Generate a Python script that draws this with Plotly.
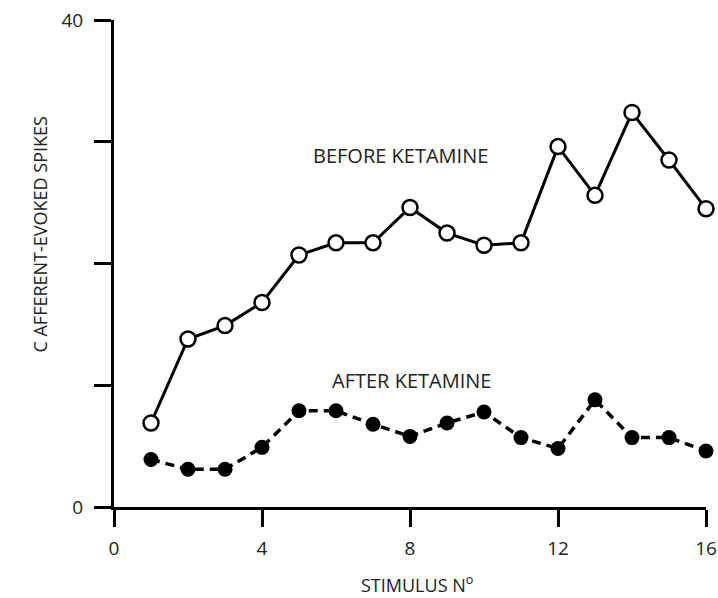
import plotly.graph_objects as go

stimulus = list(range(1, 17))
before_ketamine = [6.9, 13.8, 14.9, 16.8, 20.7, 21.7, 21.7, 24.6, 22.5, 21.5, 21.7, 29.6, 25.6, 32.4, 28.5, 24.5]
after_ketamine = [3.9, 3.1, 3.1, 4.9, 7.9, 7.9, 6.8, 5.8, 6.9, 7.8, 5.7, 4.8, 8.8, 5.7, 5.7, 4.6]

x_ticks = [0, 4, 8, 12, 16]
y_ticks = [0, 10, 20, 30, 40]
y_tick_labels = ["0", "", "", "", "40"]

FONT = "Open Sans"
TXT = "#222"

fig = go.Figure()
fig.add_trace(go.Scatter(
    x=stimulus, y=before_ketamine, mode="lines+markers",
    line=dict(color="black", width=3),
    marker=dict(symbol="circle", size=15, color="white", line=dict(color="black", width=2.5)),
    cliponaxis=False, showlegend=False,
))
fig.add_trace(go.Scatter(
    x=stimulus, y=after_ketamine, mode="lines+markers",
    line=dict(color="black", width=3.5, dash="9px,6px"),
    marker=dict(symbol="circle", size=15, color="black"),
    cliponaxis=False, showlegend=False,
))

fig.add_annotation(x=7.73, y=28.9, text="BEFORE KETAMINE", showarrow=False,
                   xanchor="center", yanchor="middle",
                   font=dict(family=FONT, size=20, color=TXT))
fig.add_annotation(x=8.05, y=10.4, text="AFTER KETAMINE", showarrow=False,
                   xanchor="center", yanchor="middle",
                   font=dict(family=FONT, size=20, color=TXT))
fig.add_annotation(xref="paper", yref="paper", x=0.512, y=-0.158,
                   xanchor="center", yanchor="middle",
                   text="STIMULUS N<sup>o</sup>", showarrow=False,
                   font=dict(family=FONT, size=18, color=TXT))
fig.add_annotation(xref="paper", yref="paper", x=-0.125, y=0.5595,
                   xanchor="center", yanchor="middle",
                   text="C AFFERENT-EVOKED SPIKES", showarrow=False, textangle=-90,
                   font=dict(family=FONT, size=18, color=TXT))

fig.update_xaxes(
    range=[0, 16], tickvals=x_ticks, ticktext=[str(v) for v in x_ticks],
    ticks="outside", ticklen=17, tickwidth=3, tickcolor="black",
    showline=True, linecolor="black", linewidth=3,
    showgrid=False, zeroline=False, automargin=False, ticklabelstandoff=5,
    ticklabeloverflow="allow",
    tickfont=dict(family=FONT, size=19, color=TXT),
)
fig.update_yaxes(
    range=[0, 40], tickvals=y_ticks, ticktext=y_tick_labels,
    ticks="outside", ticklen=17, tickwidth=3, tickcolor="black",
    showline=True, linecolor="black", linewidth=3,
    showgrid=False, zeroline=False, automargin=False, ticklabelstandoff=7,
    ticklabeloverflow="allow",
    tickfont=dict(family=FONT, size=19, color=TXT),
)

fig.update_layout(
    width=718, height=598,
    margin=dict(l=114, r=12, t=20, b=91),
    plot_bgcolor="white", paper_bgcolor="white",
)

fig.write_html(
    "out.html",
    config={"displayModeBar": False},
    post_script="document.body.style.margin='0';document.body.style.overflow='hidden';",
)
